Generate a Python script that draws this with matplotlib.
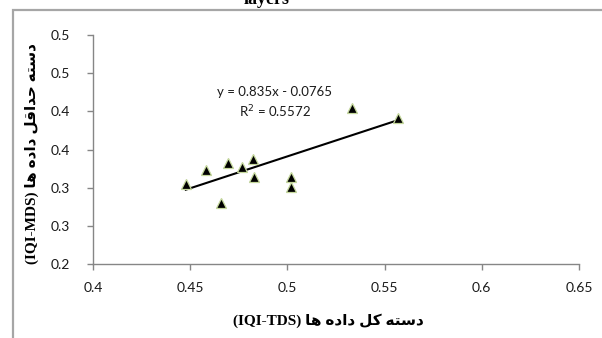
import matplotlib
matplotlib.use('Agg')
import matplotlib.pyplot as plt
from matplotlib.patches import Rectangle

# %% Data
tds = [0.4477, 0.458, 0.4695, 0.466, 0.4768, 0.4825, 0.483, 0.502, 0.502, 0.533, 0.557]
mds = [0.305, 0.323, 0.332, 0.280, 0.327, 0.3376, 0.314, 0.314, 0.301, 0.4045, 0.391]

# trendline as given in the chart
slope = 0.835
intercept = -0.0765
r2 = 0.5572

xticks = [0.4, 0.45, 0.5, 0.55, 0.6, 0.65]
xtick_labels = ['0.4', '0.45', '0.5', '0.55', '0.6', '0.65']
yticks = [0.2, 0.25, 0.3, 0.35, 0.4, 0.45, 0.5]
ytick_labels = ['0.2', '0.3', '0.3', '0.4', '0.4', '0.5', '0.5']

# Persian words pre-shaped (presentation forms), visual left-to-right order
w_daste = '\uFEEA\uFE98\uFEB3\uFEA9'
w_kol = '\uFEDE\uFB90'
w_dade = '\uFEE9\uFEA9\uFE8D\uFEA9'
w_ha = '\uFE8E\uFEEB'
w_hadaghal = '\uFEDE\uFED7\uFE8D\uFEAA\uFEA3'

xlabel = '(IQI-TDS) ' + ' '.join([w_ha, w_dade, w_kol, w_daste])
ylabel = '(IQI-MDS) ' + ' '.join([w_ha, w_dade, w_hadaghal, w_daste])
title = 'layers'

# %% Plot
fig = plt.figure(figsize=(6.02, 3.38), dpi=100)
ax = fig.add_axes([0.1545, 0.2189, 0.8073, 0.6775])

# chart-area frame (runs off the canvas right and bottom)
fig.patches.append(Rectangle((12.5 / 602, -0.1), 1.2, 1 - 10 / 338 + 0.1,
                             transform=fig.transFigure, fill=False,
                             edgecolor='#a6a6a6', linewidth=1.6))

ax.plot(tds, mds, linestyle='none', marker='^', markersize=7.5,
        markerfacecolor='black', markeredgecolor='#c4d79b', markeredgewidth=0.9,
        zorder=3)

x0, x1 = min(tds), max(tds)
ax.plot([x0, x1], [slope * x0 + intercept, slope * x1 + intercept],
        color='black', linewidth=1.5, zorder=2)

eq_font = ['Lato', 'DejaVu Sans']
ax.text(0.4935, 0.4255, 'y = %.3fx - %.4f' % (slope, -intercept),
        ha='center', va='center', fontsize=9.5, family=eq_font, color='#1a1a1a')
ax.text(0.4935, 0.3995, 'R$^2$ = %.4f' % r2, ha='center', va='center',
        fontsize=9.5, family=eq_font, color='#1a1a1a')

ax.set_xlim(0.4, 0.65)
ax.set_ylim(0.2, 0.5)
ax.set_xticks(xticks)
ax.set_xticklabels(xtick_labels)
ax.set_yticks(yticks)
ax.set_yticklabels(ytick_labels)

for s in ['top', 'right']:
    ax.spines[s].set_visible(False)
for s in ['left', 'bottom']:
    ax.spines[s].set_color('#868686')
    ax.spines[s].set_linewidth(1.0)

ax.tick_params(axis='both', direction='out', length=4.5, width=1.0,
               color='#868686', labelsize=10, labelcolor='#1a1a1a')
ax.tick_params(axis='y', pad=12)
ax.tick_params(axis='x', pad=8.5)
for lab in ax.get_xticklabels() + ax.get_yticklabels():
    lab.set_family(eq_font)

label_font = ['Liberation Serif', 'DejaVu Sans']
fig.text(328 / 602, 1 - 321 / 338, xlabel, ha='center', va='center',
         fontsize=11, fontweight='bold', family=label_font)
fig.text(32 / 602, 1 - 154 / 338, ylabel, ha='center', va='center',
         rotation=90, fontsize=11, fontweight='bold', family=label_font)
# title sits mostly above the visible canvas, as in the reference
fig.text(267 / 602, 1 - 3.5 / 338, title, ha='center', va='baseline',
         fontsize=13, fontweight='bold', family=['Liberation Serif'])

fig.savefig('out.png', dpi=100)
